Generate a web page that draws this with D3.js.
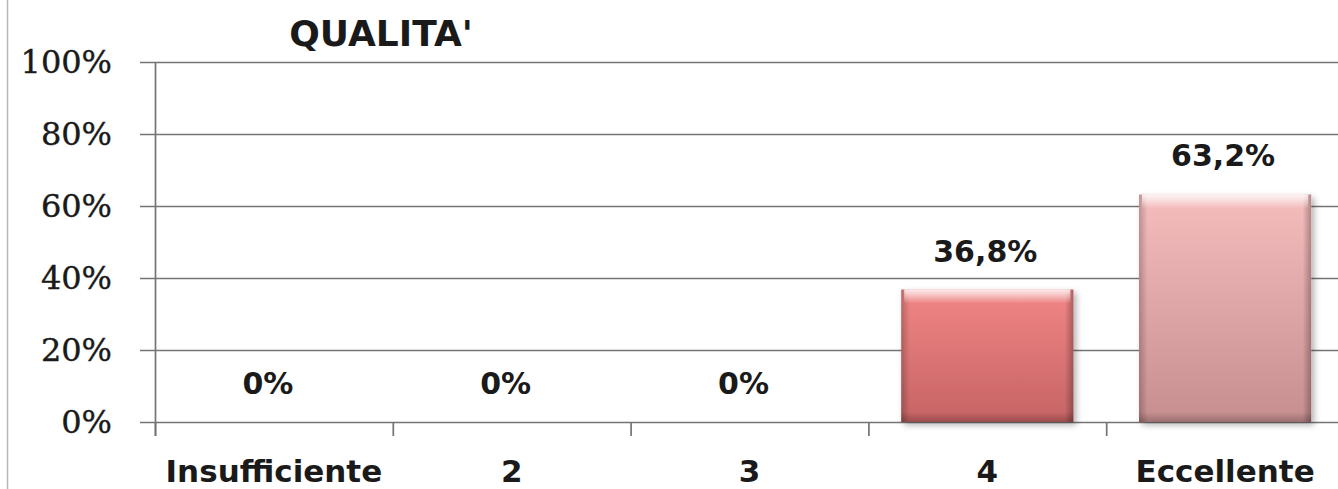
<!DOCTYPE html>
<html>
<head>
<meta charset="utf-8">
<script src="https://cdn.jsdelivr.net/npm/d3@7"></script>
<style>
  html, body { margin: 0; padding: 0; background: #fff; }
  svg { display: block; }
</style>
</head>
<body>
<svg id="chart" width="1338" height="489"></svg>
<script>
// Survey results: quality rating distribution
const title = "QUALITA'";
const categories = ["Insufficiente", "2", "3", "4", "Eccellente"];
const values = [0, 0, 0, 36.8, 63.2];
const valueLabels = ["0%", "0%", "0%", "36,8%", "63,2%"];
const yTicks = [0, 20, 40, 60, 80, 100];
const barTop = ["#f28a8a", "#f28a8a", "#f28a8a", "#f28686", "#f6bdbd"];
const barBottom = ["#c46062", "#c46062", "#c46062", "#c56364", "#c68e8f"];

const svg = d3.select("#chart");
const W = 1338, H = 489;
const margin = { left: 155, right: -6, top: 62, bottom: 67 };

const x = d3.scaleBand()
  .domain(categories)
  .range([margin.left, W - margin.right])
  .paddingInner(0.276)
  .paddingOuter(0.138);

const y = d3.scaleLinear()
  .domain([0, 100])
  .range([H - margin.bottom, margin.top]);

// frame line on the left edge
svg.append("line")
  .attr("x1", 7.5).attr("x2", 7.5).attr("y1", 0).attr("y2", H)
  .attr("stroke", "#b8b8b8").attr("stroke-width", 1.5);

// defs: gradients and shadow
const defs = svg.append("defs");
categories.forEach((c, i) => {
  const g = defs.append("linearGradient")
    .attr("id", "grad" + i).attr("x1", 0).attr("x2", 0).attr("y1", 0).attr("y2", 1);
  g.append("stop").attr("offset", "0%").attr("stop-color", barTop[i]);
  g.append("stop").attr("offset", "100%").attr("stop-color", barBottom[i]);
});
const hg = defs.append("linearGradient")
  .attr("id", "hl").attr("x1", 0).attr("x2", 0).attr("y1", 0).attr("y2", 1);
hg.append("stop").attr("offset", "0%").attr("stop-color", "#fff").attr("stop-opacity", 0.85);
hg.append("stop").attr("offset", "100%").attr("stop-color", "#fff").attr("stop-opacity", 0);
const sideG = defs.append("linearGradient")
  .attr("id", "side").attr("x1", 0).attr("x2", 1).attr("y1", 0).attr("y2", 0);
sideG.append("stop").attr("offset", "0%").attr("stop-color", "#000").attr("stop-opacity", 0.22);
sideG.append("stop").attr("offset", "5%").attr("stop-color", "#000").attr("stop-opacity", 0);
sideG.append("stop").attr("offset", "95%").attr("stop-color", "#000").attr("stop-opacity", 0);
sideG.append("stop").attr("offset", "100%").attr("stop-color", "#000").attr("stop-opacity", 0.28);
const botG = defs.append("linearGradient")
  .attr("id", "bot").attr("x1", 0).attr("x2", 0).attr("y1", 0).attr("y2", 1);
botG.append("stop").attr("offset", "0%").attr("stop-color", "#000").attr("stop-opacity", 0);
botG.append("stop").attr("offset", "100%").attr("stop-color", "#000").attr("stop-opacity", 0.22);
const shadow = defs.append("filter").attr("id", "shadow")
  .attr("x", "-10%").attr("y", "-10%").attr("width", "130%").attr("height", "130%");
shadow.append("feDropShadow")
  .attr("dx", 3).attr("dy", 3).attr("stdDeviation", 3)
  .attr("flood-color", "#000").attr("flood-opacity", 0.3);

// gridlines
svg.append("g")
  .selectAll("line")
  .data(yTicks)
  .join("line")
  .attr("x1", margin.left - 15).attr("x2", W)
  .attr("y1", d => Math.round(y(d)) + 0.5).attr("y2", d => Math.round(y(d)) + 0.5)
  .attr("stroke", "#747474").attr("stroke-width", 1.7);

// y axis line
svg.append("line")
  .attr("x1", margin.left + 0.5).attr("x2", margin.left + 0.5)
  .attr("y1", y(100)).attr("y2", y(0) + 14)
  .attr("stroke", "#747474").attr("stroke-width", 1.7);

// category boundary ticks
const step = x.step();
const boundaries = d3.range(categories.length + 1).map(i => margin.left + i * step);
svg.append("g")
  .selectAll("line")
  .data(boundaries)
  .join("line")
  .attr("x1", d => d + 0.5).attr("x2", d => d + 0.5)
  .attr("y1", y(0)).attr("y2", y(0) + 14)
  .attr("stroke", "#747474").attr("stroke-width", 1.7);

// y tick labels
svg.append("g")
  .selectAll("text")
  .data(yTicks)
  .join("text")
  .attr("x", 112)
  .attr("y", d => y(d) + 11)
  .attr("text-anchor", "end")
  .attr("font-family", "DejaVu Serif")
  .attr("font-size", 32)
  .attr("fill", "#1a1a1a")
  .attr("stroke", "#1a1a1a").attr("stroke-width", 0.4)
  .text(d => d + "%");

// bars
const bars = svg.append("g");
categories.forEach((c, i) => {
  if (values[i] <= 0) return;
  const bx = x(c), bw = x.bandwidth();
  const by = y(values[i]), bh = y(0) - y(values[i]);
  const g = bars.append("g");
  g.append("rect")
    .attr("x", bx).attr("y", by).attr("width", bw).attr("height", bh)
    .attr("fill", `url(#grad${i})`)
    .attr("filter", "url(#shadow)");
  g.append("rect")
    .attr("x", bx).attr("y", by).attr("width", bw).attr("height", bh)
    .attr("fill", "url(#side)");
  g.append("rect")
    .attr("x", bx + 3).attr("y", by).attr("width", bw - 6).attr("height", 14)
    .attr("fill", "url(#hl)");
  g.append("rect")
    .attr("x", bx).attr("y", by + bh - 10).attr("width", bw).attr("height", 10)
    .attr("fill", "url(#bot)");
});

// value labels
svg.append("g")
  .selectAll("text")
  .data(categories)
  .join("text")
  .attr("x", (d, i) => x(d) + x.bandwidth() / 2 - (values[i] > 0 ? 2 : 6))
  .attr("y", (d, i) => values[i] > 0 ? y(values[i]) - 28 : y(0) - 28)
  .attr("text-anchor", "middle")
  .attr("font-family", "DejaVu Sans")
  .attr("font-weight", "bold")
  .attr("font-size", 30)
  .attr("fill", "#1a1a1a")
  .text((d, i) => valueLabels[i]);

// category labels
svg.append("g")
  .selectAll("text")
  .data(categories)
  .join("text")
  .attr("x", d => x(d) + x.bandwidth() / 2)
  .attr("y", H - 7)
  .attr("text-anchor", "middle")
  .attr("font-family", "DejaVu Sans")
  .attr("font-weight", "bold")
  .attr("font-size", 31)
  .attr("fill", "#1a1a1a")
  .text(d => d);

// title
svg.append("text")
  .attr("x", 381).attr("y", 46)
  .attr("text-anchor", "middle")
  .attr("font-family", "DejaVu Sans")
  .attr("font-weight", "bold")
  .attr("font-size", 36)
  .attr("fill", "#1a1a1a")
  .text(title);
</script>
</body>
</html>
